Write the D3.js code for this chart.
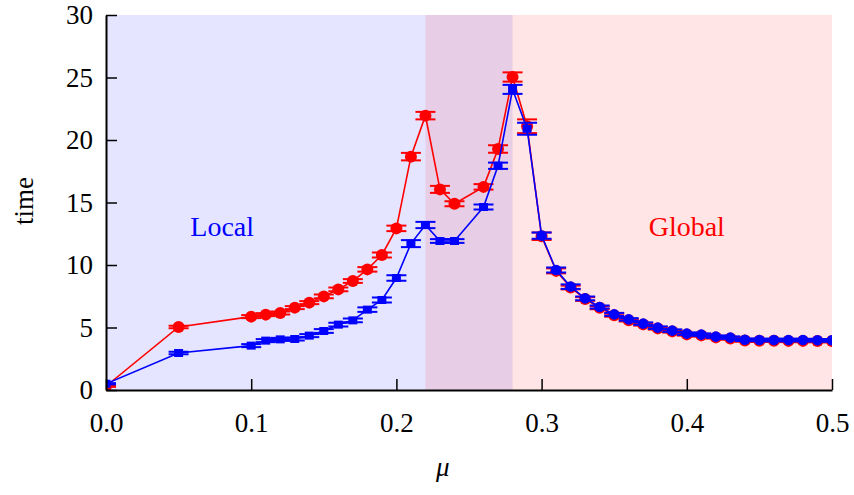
<!DOCTYPE html>
<html>
<head>
<meta charset="utf-8">
<script src="https://cdn.jsdelivr.net/npm/d3@7"></script>
<style>
    body { margin: 0; background: #fff; }
    svg { display: block; }
</style>
</head>
<body>
<div id="chart"></div>
<script>
// mu values (0.25 is not sampled)
const muValues = [0, 0.05, 0.10, 0.11, 0.12, 0.13, 0.14, 0.15, 0.16, 0.17, 0.18, 0.19, 0.20, 0.21, 0.22, 0.23, 0.24,
    0.26, 0.27, 0.28, 0.29, 0.30, 0.31, 0.32, 0.33, 0.34, 0.35, 0.36, 0.37, 0.38, 0.39, 0.40,
    0.41, 0.42, 0.43, 0.44, 0.45, 0.46, 0.47, 0.48, 0.49, 0.50];

const redTime = [0.3, 5.04, 5.87, 6.03, 6.16, 6.59, 6.99, 7.49, 8.05, 8.72, 9.65, 10.8, 12.93, 18.67, 21.95, 16.05, 14.9,
    16.25, 19.28, 25.04, 21.1, 12.3, 9.53, 8.2, 7.28, 6.58, 5.98, 5.58, 5.25, 4.93, 4.69, 4.45,
    4.37, 4.21, 4.12, 3.96, 3.94, 3.94, 3.93, 3.93, 3.92, 3.92];
const redErr = [0.05, 0.1, 0.12, 0.12, 0.12, 0.12, 0.12, 0.15, 0.15, 0.15, 0.18, 0.2, 0.22, 0.3, 0.3, 0.28, 0.2,
    0.22, 0.3, 0.37, 0.55, 0.3, 0.2, 0.15, 0.15, 0.12, 0.12, 0.1, 0.1, 0.1, 0.1, 0.1,
    0.1, 0.1, 0.1, 0.1, 0.1, 0.1, 0.1, 0.1, 0.1, 0.1];

const blueTime = [0.5, 2.96, 3.55, 3.95, 4.05, 4.08, 4.35, 4.72, 5.23, 5.57, 6.43, 7.2, 8.96, 11.71, 13.2, 11.92, 11.92,
    14.64, 17.94, 24.05, 20.9, 12.35, 9.6, 8.27, 7.33, 6.64, 6.05, 5.65, 5.31, 4.99, 4.75, 4.51,
    4.43, 4.27, 4.19, 4.02, 4.0, 4.0, 4.0, 4.0, 3.98, 3.98];
const blueErr = [0.05, 0.1, 0.12, 0.12, 0.12, 0.12, 0.12, 0.15, 0.15, 0.15, 0.18, 0.2, 0.22, 0.28, 0.25, 0.15, 0.15,
    0.2, 0.25, 0.36, 0.48, 0.25, 0.2, 0.18, 0.15, 0.12, 0.12, 0.1, 0.1, 0.1, 0.1, 0.1,
    0.1, 0.1, 0.1, 0.1, 0.1, 0.1, 0.1, 0.1, 0.1, 0.1];

const xTicks = [0, 0.1, 0.2, 0.3, 0.4, 0.5];
const yTicks = [0, 5, 10, 15, 20, 25, 30];

// phase regions: [start, end]
const localRegion = [0, 0.28];
const globalRegion = [0.22, 0.5];

const width = 854, height = 495;
const margin = { top: 15, right: 22, bottom: 105, left: 106 };
const innerW = width - margin.left - margin.right;
const innerH = height - margin.top - margin.bottom;
const serif = "'Liberation Serif', 'Times New Roman', serif";

const svg = d3.select("#chart").append("svg")
    .attr("width", width)
    .attr("height", height);

const g = svg.append("g")
    .attr("transform", `translate(${margin.left},${margin.top})`);

const x = d3.scaleLinear().domain([0, 0.5]).range([0, innerW]);
const y = d3.scaleLinear().domain([0, 30]).range([innerH, 0]);

g.append("clipPath").attr("id", "plot-clip")
    .append("rect")
    .attr("width", innerW)
    .attr("height", innerH);

// shaded regions
g.append("rect")
    .attr("x", x(localRegion[0]))
    .attr("y", 0)
    .attr("width", x(localRegion[1]) - x(localRegion[0]))
    .attr("height", innerH)
    .attr("fill", "#0000ff")
    .attr("fill-opacity", 0.1);

g.append("rect")
    .attr("x", x(globalRegion[0]))
    .attr("y", 0)
    .attr("width", x(globalRegion[1]) - x(globalRegion[0]))
    .attr("height", innerH)
    .attr("fill", "#ff0000")
    .attr("fill-opacity", 0.1);

// region labels
g.append("text")
    .attr("x", x(0.08))
    .attr("y", y(12.3))
    .attr("text-anchor", "middle")
    .style("font-family", serif)
    .style("font-size", "28px")
    .style("fill", "#0000ff")
    .text("Local");

g.append("text")
    .attr("x", x(0.4))
    .attr("y", y(12.3))
    .attr("text-anchor", "middle")
    .style("font-family", serif)
    .style("font-size", "28px")
    .style("fill", "#ff0000")
    .text("Global");

// series
const series = [
    { values: redTime, errs: redErr, color: "#ff0000", r: 6 },
    { values: blueTime, errs: blueErr, color: "#0000ff", r: 5.3 }
];

const line = d3.line()
    .x(d => x(d.mu))
    .y(d => y(d.t));

const plot = g.append("g").attr("clip-path", "url(#plot-clip)");

series.forEach((s, si) => {
    const pts = muValues.map((mu, i) => ({ mu: mu, t: s.values[i], e: s.errs[i] }));
    const sg = plot.append("g");

    sg.append("path")
        .datum(pts)
        .attr("d", line)
        .attr("fill", "none")
        .attr("stroke", s.color)
        .attr("stroke-width", 1.6);

    // error bars
    const eb = sg.selectAll(".err")
        .data(pts)
        .enter().append("g");
    eb.append("line")
        .attr("x1", d => x(d.mu)).attr("x2", d => x(d.mu))
        .attr("y1", d => y(d.t - d.e)).attr("y2", d => y(d.t + d.e))
        .attr("stroke", s.color).attr("stroke-width", 1.5);
    [-1, 1].forEach(sign => {
        eb.append("line")
            .attr("x1", d => x(d.mu) - 10).attr("x2", d => x(d.mu) + 10)
            .attr("y1", d => y(d.t + sign * d.e)).attr("y2", d => y(d.t + sign * d.e))
            .attr("stroke", s.color).attr("stroke-width", 2);
    });

    // red: circles; blue: squares in the local part, circles in the global part
    const isCircle = d => si === 0 || d.mu >= 0.3;

    sg.selectAll(".dot")
        .data(pts.filter(isCircle))
        .enter().append("circle")
        .attr("cx", d => x(d.mu))
        .attr("cy", d => y(d.t))
        .attr("r", s.r)
        .attr("fill", s.color);

    sg.selectAll(".sq")
        .data(pts.filter(d => !isCircle(d)))
        .enter().append("rect")
        .attr("x", d => x(d.mu) - 4.5)
        .attr("y", d => y(d.t) - 4)
        .attr("width", 9)
        .attr("height", 8)
        .attr("fill", s.color);
});

// axes (ticks point inward)
const xAxis = g.append("g")
    .attr("transform", `translate(0,${innerH})`)
    .call(d3.axisBottom(x).tickValues(xTicks).tickSizeInner(-11).tickSizeOuter(0).tickFormat(d3.format(".1f")));
xAxis.selectAll("text")
    .attr("y", 42)
    .attr("dy", 0)
    .style("font-family", serif)
    .style("font-size", "27px")
    .style("fill", "#000");

const yAxis = g.append("g")
    .call(d3.axisLeft(y).tickValues(yTicks).tickSizeInner(-11).tickSizeOuter(0));
yAxis.selectAll("text")
    .attr("x", -13)
    .attr("dy", "0.33em")
    .style("font-family", serif)
    .style("font-size", "27px")
    .style("fill", "#000");

[xAxis, yAxis].forEach(a => {
    a.select(".domain").attr("stroke", "#000").attr("stroke-width", 2);
    a.selectAll(".tick line").attr("stroke", "#000").attr("stroke-width", 1.5);
});

// axis titles
svg.append("text")
    .attr("x", margin.left + x(0.232))
    .attr("y", 476)
    .attr("text-anchor", "middle")
    .style("font-family", serif)
    .style("font-style", "italic")
    .style("font-size", "27px")
    .text("μ");

svg.append("text")
    .attr("transform", "translate(33,201) rotate(-90)")
    .attr("text-anchor", "middle")
    .style("font-family", serif)
    .style("font-size", "27px")
    .text("time");
</script>
</body>
</html>
